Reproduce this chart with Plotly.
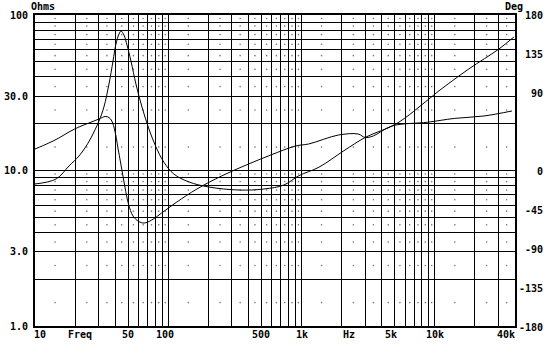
import numpy as np
import plotly.graph_objects as go

# ---- data ----
imp_freq = [10, 14.4, 18.0, 21.4, 23.7, 26.3, 30.2, 32.9, 35.9, 38.5, 40.5, 42.7, 44.2, 46.5,
            49.0, 52.5, 57.2, 63.5, 71.6, 80.8, 92.8, 110, 143, 202, 339, 522, 738, 956,
            1351, 2080, 3042, 5108, 9031, 10735, 18023, 30260, 39220]
imp_ohms = [8.19, 8.82, 10.7, 12.4, 13.96, 16.2, 20.8, 25.6, 36.0, 50.6, 65.1, 75.5, 78.9, 74.4,
            64.1, 50.6, 36.0, 25.6, 18.5, 14.2, 11.3, 9.5, 8.44, 7.83, 7.49, 7.60, 8.07, 9.26,
            10.5, 13.4, 16.4, 19.9, 28.8, 32.5, 45.0, 60.4, 72.2]

ph_freq = [10, 12.7, 15.1, 18.0, 21.4, 25.4, 30.2, 33.6, 35.9, 37.7, 39.8, 41.8, 44.2, 47.3,
           50.3, 54.4, 60.0, 66.0, 75.2, 89.2, 116, 164, 251, 385, 590, 903, 1133, 1897,
           2665, 3002, 3446, 4766, 8876, 14030, 23370, 37950]
ph_deg = [24.9, 31.8, 37.6, 44.6, 50.4, 55.0, 59.6, 62.5, 61.3, 57.3, 45.7, 27.2, 6.4, -19.1,
          -38.8, -52.7, -59.0, -60.8, -57.3, -49.2, -36.5, -21.4, -6.4, 6.4, 18.0, 28.4, 30.7, 41.1,
          42.2, 38.2, 39.9, 51.5, 55.9, 60.3, 63.1, 68.9]

x_label_vals = [10, 50, 100, 500, 1000, 5000, 10000, 40000]
x_label_text = ["10", "50", "100", "500", "1k", "5k", "10k", "40k"]
y_label_vals = [1, 3, 10, 30, 100]
y_label_text = ["1.0", "3.0", "10.0", "30.0", "100"]
ph_label_vals = [180, 135, 90, 0, -45, -90, -135, -180]
ph_label_text = ["180", "135", "90", "0", "-45", "-90", "-135", "-180"]

# grid positions (1..9 per decade)
x_grid = [d * 10 ** k for k in range(1, 5) for d in range(1, 10) if d * 10 ** k <= 40000]
y_grid = [d * 10 ** k for k in range(0, 2) for d in range(1, 10)] + [100]

FONT = "DejaVu Sans Mono"
fig = go.Figure()

# faint dot grid at midpoints between grid lines
mx = [np.sqrt(a * b) for a, b in zip(x_grid[:-1], x_grid[1:])]
my = [np.sqrt(a * b) for a, b in zip(y_grid[:-1], y_grid[1:])]
dx, dy = np.meshgrid(mx, my)
fig.add_trace(go.Scatter(x=dx.ravel(), y=dy.ravel(), mode="markers",
                         marker=dict(size=1.6, color="#777"), hoverinfo="skip", showlegend=False))

fig.add_trace(go.Scatter(x=imp_freq, y=imp_ohms, mode="lines", line=dict(color="black", width=1),
                         line_shape="spline", showlegend=False))
fig.add_trace(go.Scatter(x=ph_freq, y=ph_deg, mode="lines", yaxis="y2",
                         line=dict(color="black", width=1), line_shape="spline", showlegend=False))

ann = []
for v, t in zip(x_label_vals, x_label_text):
    xa, xs = "center", 0
    if v == 10:
        xa, xs = "left", -3
    elif v == 40000:
        xa, xs = "right", 2
    elif v == 100:
        xs = -3
    elif v == 5000:
        xs = -4
    ann.append(dict(x=np.log10(v), y=0, xref="x", yref="paper", text=t, showarrow=False,
                    xanchor=xa, yanchor="top", xshift=xs, yshift=-1,
                    font=dict(family=FONT, size=10, color="black", weight="bold")))
ann.append(dict(x=np.log10(20), y=0, xref="x", yref="paper", text="Freq", showarrow=False,
                xanchor="center", yanchor="top", xshift=5, yshift=-1,
                font=dict(family=FONT, size=10, color="black", weight="bold")))
ann.append(dict(x=np.log10(2000), y=0, xref="x", yref="paper", text="Hz", showarrow=False,
                xanchor="center", yanchor="top", xshift=7, yshift=-1,
                font=dict(family=FONT, size=10, color="black", weight="bold")))
for v, t in zip(ph_label_vals, ph_label_text):
    ann.append(dict(x=1.0625, y=v, xref="paper", yref="y2", text=t, showarrow=False,
                    xanchor="right", yanchor="middle", yshift=-1 if v != 180 else 0,
                    font=dict(family=FONT, size=10, color="black", weight="bold")))
ann.append(dict(x=0.016, y=1, xref="paper", yref="paper", text="Ohms", showarrow=False,
                xanchor="center", yanchor="bottom", yshift=1,
                font=dict(family=FONT, size=10, color="black", weight="bold")))
ann.append(dict(x=0.9979, y=1, xref="paper", yref="paper", text="Deg", showarrow=False,
                xanchor="center", yanchor="bottom", yshift=1,
                font=dict(family=FONT, size=10, color="black", weight="bold")))

fig.update_layout(
    width=550, height=354,
    margin=dict(l=35, r=35, t=15, b=28, autoexpand=False),
    paper_bgcolor="white", plot_bgcolor="white",
    xaxis=dict(type="log", range=[1, np.log10(40000)], tickvals=x_grid,
               ticktext=[""] * len(x_grid), showgrid=True, gridcolor="black", gridwidth=1,
               showline=True, linecolor="black", linewidth=2, mirror=True, ticks="",
               zeroline=False, automargin=False),
    yaxis=dict(type="log", range=[0, 2], tickvals=y_grid,
               ticktext=[y_label_text[y_label_vals.index(v)] if v in y_label_vals else "" for v in y_grid],
               showgrid=True, gridcolor="black", gridwidth=1,
               showline=True, linecolor="black", linewidth=2, mirror=True, ticks="",
               ticklabelstandoff=3, automargin=False,
               tickfont=dict(family=FONT, size=10, color="black", weight="bold"),
               zeroline=False),
    yaxis2=dict(range=[-180, 180], overlaying="y", side="right", showgrid=False,
                showticklabels=False, zeroline=False, ticks="", automargin=False),
    annotations=ann,
)

fig.write_html("out.html")
